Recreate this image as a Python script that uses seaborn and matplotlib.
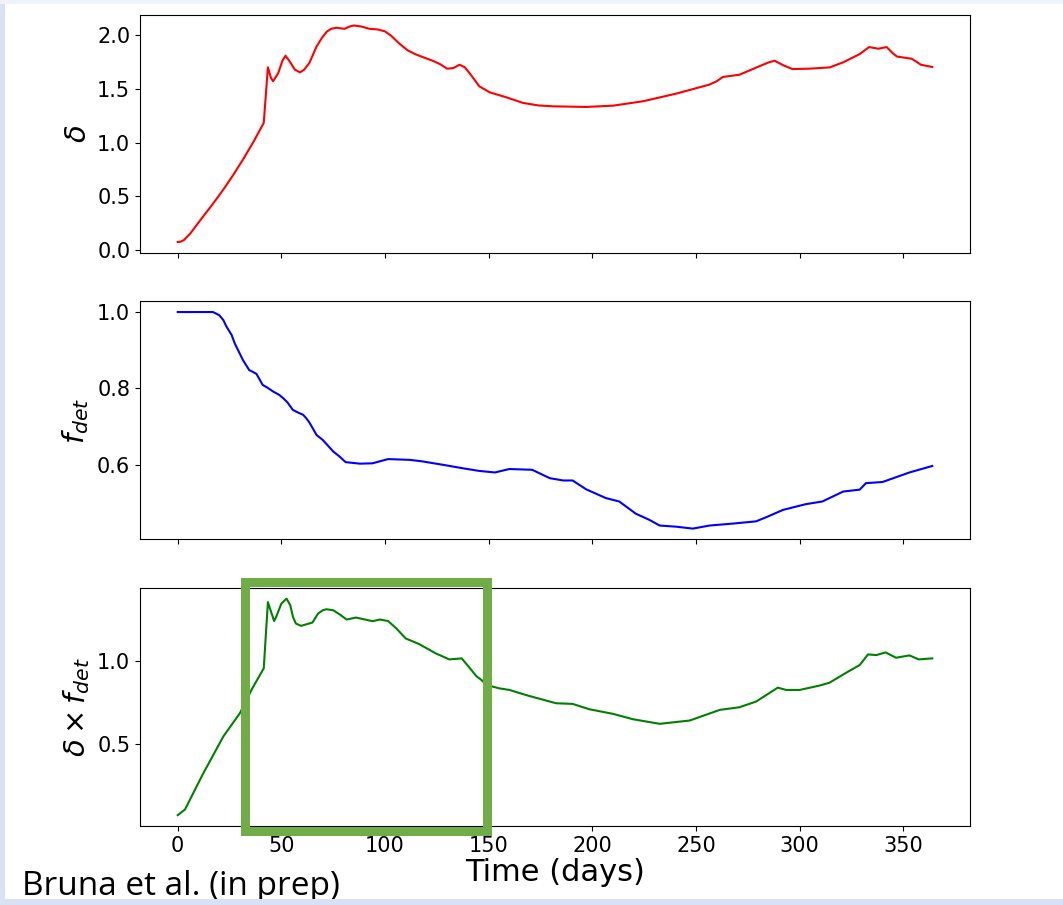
import numpy as np
import pandas as pd
import matplotlib
matplotlib.use("Agg")
import matplotlib.pyplot as plt
from matplotlib.patches import Rectangle
import seaborn as sns

# delta (red)
days_d = [0, 1.5, 3, 6, 12, 17, 22, 26.5, 31.5, 36.5, 41.5, 43.5, 45, 46, 48.5,
          50.5, 52, 54, 56.5, 59, 61, 63.5, 67, 69.5, 72, 74, 76.5, 80.5, 83,
          85, 88.5, 92.5, 96.5, 100, 103, 107, 111, 114.5, 118.5, 123, 126.5,
          130, 133, 136, 138.5, 141, 145.5, 150.5, 158.5, 166.5, 174, 181, 197,
          210, 224.5, 240.5, 256.5, 260, 263, 271, 280.5, 285, 288, 292, 296.5,
          304.5, 314.5, 321, 329, 333.5, 338, 342, 345, 347, 354, 356.5, 358.5, 364]
delta = [0.074, 0.078, 0.093, 0.152, 0.305, 0.43, 0.562, 0.69, 0.842, 1.005, 1.183, 1.70, 1.60, 1.57, 1.647,
         1.76, 1.808, 1.755, 1.678, 1.653, 1.678, 1.74, 1.894, 1.972, 2.033, 2.058, 2.068, 2.058, 2.08,
         2.089, 2.08, 2.058, 2.052, 2.034, 1.993, 1.919, 1.857, 1.823, 1.793, 1.761, 1.73,
         1.687, 1.693, 1.724, 1.70, 1.64, 1.523, 1.467, 1.421, 1.369, 1.345, 1.337, 1.331,
         1.343, 1.384, 1.455, 1.539, 1.57, 1.61, 1.631, 1.709, 1.745, 1.761, 1.72, 1.684,
         1.687, 1.699, 1.746, 1.823, 1.888, 1.873, 1.888, 1.83, 1.80, 1.78, 1.75, 1.724, 1.703]

# f_det (blue)
days_f = [0, 17, 20, 22, 23.5, 26, 27.5, 31.5, 34.5, 36, 38, 41, 43, 46, 49, 51,
          53, 55.5, 58, 60.5, 62, 63.5, 67, 70, 73.5, 75, 78, 81, 88, 94, 101.5,
          112, 118, 128, 137.5, 145.5, 153, 160, 171, 179.5, 186, 190.5, 197,
          206.5, 213, 221, 227.5, 232.5, 240.5, 248.5, 256.5, 267.5, 279,
          284, 292, 303, 311, 321, 329, 332, 340, 353, 364]
fdet = [1.0, 1.0, 0.992, 0.979, 0.962, 0.94, 0.918, 0.874, 0.848, 0.844, 0.838, 0.809, 0.803, 0.792, 0.783, 0.774,
        0.763, 0.744, 0.737, 0.731, 0.722, 0.711, 0.678, 0.665, 0.644, 0.635, 0.622, 0.607, 0.603, 0.604, 0.615,
        0.613, 0.609, 0.600, 0.591, 0.584, 0.580, 0.589, 0.587, 0.565, 0.559, 0.559, 0.536,
        0.513, 0.504, 0.472, 0.456, 0.441, 0.438, 0.433, 0.441, 0.446, 0.452,
        0.463, 0.482, 0.497, 0.504, 0.530, 0.535, 0.552, 0.555, 0.580, 0.597]

# delta x f_det (green)
days_p = [0, 3.5, 12, 22, 30, 36, 41.5, 43.5, 46.5, 47.5, 50, 52.5, 54.3, 55.6,
          57, 59.5, 65, 67.7, 70, 71.7, 75, 78, 81.5, 86, 94, 97.5, 101.5, 105.5,
          110, 116.5, 124.5, 131, 137, 141, 144, 146.5, 149, 155, 160, 169.5,
          182.5, 190.5, 198.5, 210, 219.5, 232.5, 247, 261.5, 271, 279,
          289.5, 293.5, 300, 309.5, 314.5, 322.5, 329, 333, 337, 341.5,
          346.5, 353, 357.5, 364]
prod = [0.072, 0.106, 0.316, 0.546, 0.686, 0.836, 0.956, 1.355, 1.241, 1.266, 1.346, 1.376, 1.336, 1.266,
        1.226, 1.212, 1.232, 1.286, 1.306, 1.312, 1.306, 1.282, 1.25, 1.262, 1.24, 1.25, 1.241, 1.196,
        1.136, 1.102, 1.046, 1.01, 1.016, 0.956, 0.91, 0.886, 0.856, 0.836, 0.826, 0.79,
        0.746, 0.742, 0.71, 0.682, 0.65, 0.622, 0.642, 0.706, 0.722, 0.756,
        0.84, 0.826, 0.826, 0.852, 0.87, 0.93, 0.976, 1.04, 1.036, 1.052,
        1.02, 1.034, 1.01, 1.016]

xticks = [0, 50, 100, 150, 200, 250, 300, 350]

fig, axes = plt.subplots(3, 1, sharex=True, figsize=(10.63, 9.05), dpi=100)
fig.subplots_adjust(left=0.1317, right=0.9125, top=0.9838, bottom=0.0873, hspace=0.203)

sns.lineplot(x=days_d, y=delta, color="red", linewidth=1.5, ax=axes[0])
sns.lineplot(x=days_f, y=fdet, color="blue", linewidth=1.5, ax=axes[1])
sns.lineplot(x=days_p, y=prod, color="green", linewidth=1.5, ax=axes[2])

axes[0].set_yticks([0.0, 0.5, 1.0, 1.5, 2.0])
axes[1].set_yticks([0.6, 0.8, 1.0])
axes[2].set_yticks([0.5, 1.0])
axes[2].set_xticks(xticks)

axes[0].set_ylabel(r"$\delta$", fontsize=21)
axes[1].set_ylabel(r"$f_{det}$", fontsize=21)
axes[2].set_ylabel(r"$\delta \times f_{det}$", fontsize=21)
axes[2].set_xlabel("Time (days)", fontsize=22, labelpad=2)

for ax in axes:
    ax.tick_params(labelsize=15)

# slide decoration: highlight box, citation and light-blue slide edges
fig.add_artist(Rectangle((0.2305, 0.0818), 0.2281, 0.2746, transform=fig.transFigure,
                         fill=False, edgecolor="#70AD47", linewidth=6.5, zorder=10))
fig.text(0.0207, 0.011, "Bruna et al. (in prep)", fontsize=24, family="Open Sans",
         va="baseline", ha="left", zorder=5)
fig.add_artist(Rectangle((0, 0), 0.0047, 1, transform=fig.transFigure,
                         facecolor="#d9e2f3", edgecolor="none", zorder=20))
fig.add_artist(Rectangle((0, 0.9956), 1, 0.0044, transform=fig.transFigure,
                         facecolor="#eef2fa", edgecolor="none", zorder=20))
fig.add_artist(Rectangle((0, 0), 1, 0.0066, transform=fig.transFigure,
                         facecolor="#d9e2f3", edgecolor="none", zorder=20))

fig.savefig("out.png", dpi=100)
